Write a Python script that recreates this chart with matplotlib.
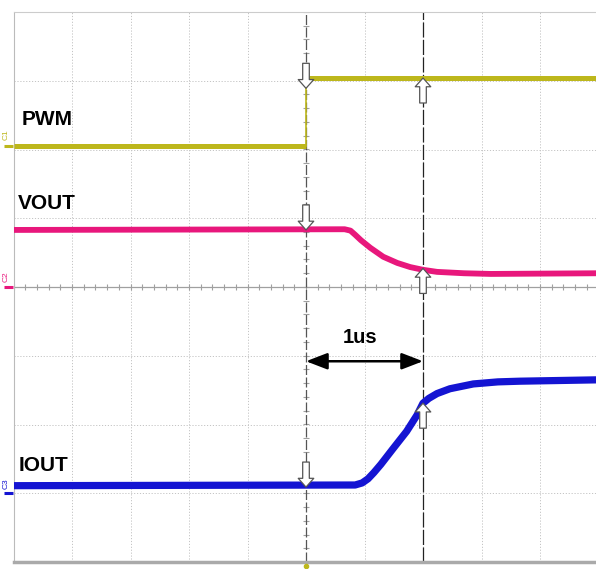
import numpy as np
import matplotlib
matplotlib.use("Agg")
import matplotlib.pyplot as plt

plt.rcParams['font.family'] = ['Liberation Sans', 'DejaVu Sans']

# time in us (500 ns/div), amplitude in screen divisions (center = 0)
pwm_t = [-2.5, 0.0, 0.0, 2.5]
pwm_v = [2.05, 2.05, 3.04, 3.04]

vout_t = [-2.5, 0.33, 0.38, 0.42, 0.47, 0.55, 0.66, 0.78, 0.89, 1.00, 1.12, 1.35, 1.58, 2.5]
vout_v = [0.83, 0.84, 0.82, 0.76, 0.68, 0.57, 0.44, 0.35, 0.29, 0.25, 0.22, 0.20, 0.19, 0.20]

iout_t = [-2.5, 0.42, 0.48, 0.53, 0.58, 0.64, 0.74, 0.86, 0.95, 1.00, 1.05, 1.12, 1.23, 1.43,
          1.64, 1.83, 2.5]
iout_v = [-2.89, -2.88, -2.85, -2.79, -2.70, -2.58, -2.36, -2.10, -1.86, -1.69, -1.62, -1.55,
          -1.48, -1.41, -1.38, -1.37, -1.35]

cursor_t = [0.0, 1.0]
labels = ['PWM', 'VOUT', 'IOUT']

C_PWM = '#BDB71C'
C_VOUT = '#E8177C'
C_IOUT = '#1414D2'

W, H = 596, 569
fig = plt.figure(figsize=(W / 100, H / 100), dpi=100)
px = 117.0  # pixels per us
ax = fig.add_axes([13.5 / W, 7 / H, 5 * px / W, 550 / H])
ax.set_xlim(-2.5, 2.5)
ax.set_ylim(-4, 4)
ax.set_xticks([])
ax.set_yticks([])
ax.spines['right'].set_visible(False)
ax.spines['left'].set_color('#BBBBBB')
ax.spines['top'].set_color('#CCCCCC')
ax.spines['bottom'].set_color('#AAAAAA')
ax.spines['bottom'].set_linewidth(2.5)

# graticule
for gx in np.arange(-2.0, 2.51, 0.5):
    if abs(gx) > 1e-9:
        ax.axvline(gx, color='#C4C4C4', lw=0.7, ls=(0, (1.2, 1.8)), zorder=1)
for gy in np.arange(-3, 4, 1):
    if gy != 0:
        ax.axhline(gy, color='#C4C4C4', lw=0.7, ls=(0, (1.2, 1.8)), zorder=1)
ax.axhline(0, color='#A0A0A0', lw=0.9, zorder=1)
ax.vlines(np.arange(-2.5, 2.51, 0.1), -0.05, 0.05, color='#A0A0A0', lw=0.8, zorder=1)
ax.hlines(np.arange(-4, 4.01, 0.2), -0.028, 0.028, color='#A0A0A0', lw=0.8, zorder=1)

# cursors
ax.axvline(cursor_t[0], color='#555555', lw=0.9, ls=(0, (8, 2)), zorder=2)
ax.axvline(cursor_t[1], color='#222222', lw=0.9, ls=(0, (12, 2)), zorder=2)

# traces
ax.plot(pwm_t[:2], pwm_v[:2], color=C_PWM, lw=3.6, solid_capstyle='butt', zorder=3)
ax.plot(pwm_t[1:3], pwm_v[1:3], color=C_PWM, lw=1.2, zorder=3)
ax.plot(pwm_t[2:], pwm_v[2:], color=C_PWM, lw=3.6, solid_capstyle='butt', zorder=3)
ax.plot(vout_t, vout_v, color=C_VOUT, lw=4.2, zorder=3)
ax.plot(iout_t, iout_v, color=C_IOUT, lw=5.2, zorder=3)


def cursor_arrow(t, y, up):
    off = -18 if up else 18
    ax.annotate('', xy=(t, y), xytext=(0, off), textcoords='offset points',
                arrowprops=dict(arrowstyle='simple,head_length=0.45,head_width=0.8,tail_width=0.34',
                                fc='white', ec='#555555', lw=0.9, shrinkA=0, shrinkB=0,
                                mutation_scale=14),
                zorder=5)


cursor_arrow(cursor_t[0], 2.89, False)
cursor_arrow(cursor_t[1], 3.04, True)
cursor_arrow(cursor_t[0], 0.83, False)
cursor_arrow(cursor_t[1], 0.27, True)
cursor_arrow(cursor_t[0], -2.91, False)
cursor_arrow(cursor_t[1], -1.69, True)

# delta-t annotation
ax.annotate('', xy=(cursor_t[1], -1.08), xytext=(cursor_t[0], -1.08),
            arrowprops=dict(arrowstyle='<|-|>,head_length=1.3,head_width=0.5',
                            color='black', lw=1.8, shrinkA=0, shrinkB=0,
                            mutation_scale=10), zorder=6)
ax.text(0.46, -0.73, '1us', ha='center', va='center', fontsize=14.5, fontweight='bold')

# trace labels
ax.text(-2.43, 2.43, labels[0], ha='left', va='center', fontsize=15, fontweight='bold')
ax.text(-2.46, 1.22, labels[1], ha='left', va='center', fontsize=15, fontweight='bold')
ax.text(-2.46, -2.60, labels[2], ha='left', va='center', fontsize=15, fontweight='bold')

# channel ground markers on the left edge
for name, ty, my, c in [('C1', 2.22, 2.05, C_PWM), ('C2', 0.15, 0.0, C_VOUT),
                        ('C3', -2.86, -2.99, C_IOUT)]:
    ax.text(-2.567, ty, name, rotation=90, ha='center', va='center', fontsize=6,
            color=c, clip_on=False)
    ax.plot([-2.58, -2.505], [my, my], color=c, lw=2.2, clip_on=False,
            solid_capstyle='butt')

ax.plot([0], [-4.06], marker='o', ms=3, color=C_PWM, clip_on=False, zorder=6)

fig.savefig('out.png', dpi=100)
